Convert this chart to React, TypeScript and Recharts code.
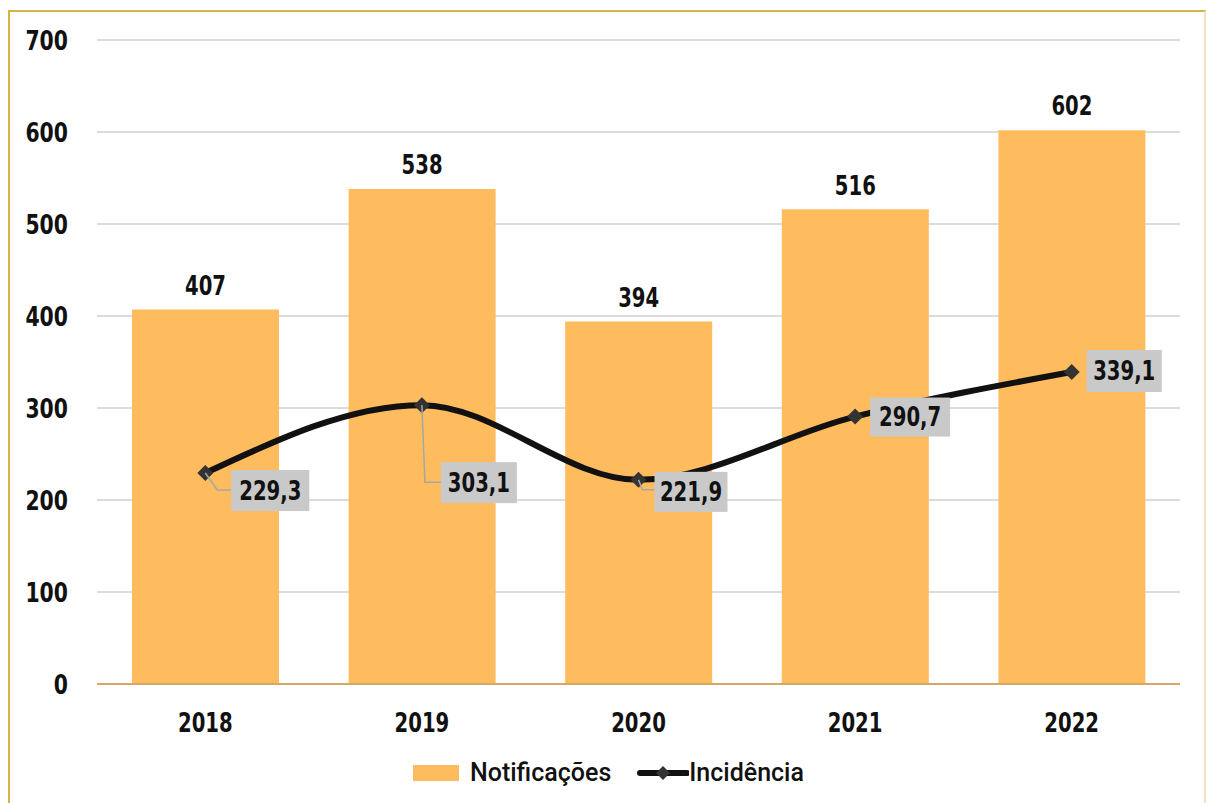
import React from 'react';
import {
  ComposedChart,
  Bar,
  Line,
  XAxis,
  YAxis,
  CartesianGrid,
  LabelList,
} from 'recharts';

const years = ['2018', '2019', '2020', '2021', '2022'];
const notificacoes = [407, 538, 394, 516, 602];
const incidencia = [229.3, 303.1, 221.9, 290.7, 339.1];
const yTicks = [0, 100, 200, 300, 400, 500, 600, 700];

const data = years.map((year, i) => ({
  year,
  notificacoes: notificacoes[i],
  incidencia: incidencia[i],
}));

const FONT = "'DejaVu Sans Condensed', sans-serif";
const BAR_COLOR = '#FEBC5F';

// where each incidence label box sits relative to its point
const boxPlacement = [
  { dx: 26, dy: -3, w: 78, h: 41, leader: [[12, 17], [26, 17]] },
  { dx: 19, dy: 57, w: 76, h: 41, leader: [[3, 77], [19, 77]] },
  { dx: 16, dy: -8, w: 73, h: 40, leader: [[4, 10], [16, 10]] },
  { dx: 15, dy: -19, w: 80, h: 39, leader: [] },
  { dx: 15, dy: -22, w: 75, h: 42, leader: [] },
];

const fmt = (v: number) => v.toFixed(1).replace('.', ',');

// narrow bold text, squeezed horizontally to look like a condensed face
const NarrowText = ({ x, y, anchor = 'middle', dy = '0.355em', size = 26, children }: any) => (
  <g transform={`translate(${x},${y})`}>
    <text
      transform="scale(0.84,1)"
      textAnchor={anchor}
      dy={dy}
      fontFamily={FONT}
      fontWeight="bold"
      fontSize={size}
      fill="#111"
    >
      {children}
    </text>
  </g>
);

const XTick = (props: any) => (
  <NarrowText x={props.x} y={props.y} dy="0.71em">
    {props.payload.value}
  </NarrowText>
);

const YTick = (props: any) => (
  <NarrowText x={props.x} y={props.y} anchor="end" size={27}>
    {props.payload.value}
  </NarrowText>
);

const BarValue = (props: any) => {
  const { x, y, width, value } = props;
  return (
    <NarrowText x={x + width / 2} y={y - 24}>
      {value}
    </NarrowText>
  );
};

const IncidenceLabel = (props: any) => {
  const { x, y, value, index } = props;
  const p = boxPlacement[index];
  if (!p) return null;
  const pts = [[0, 0], ...p.leader].map(([a, b]) => `${x + a},${y + b}`).join(' ');
  return (
    <g>
      {p.leader.length > 0 && (
        <polyline points={pts} fill="none" stroke="#A6A6A6" strokeWidth={1.5} />
      )}
      <rect x={x + p.dx} y={y + p.dy} width={p.w} height={p.h} fill="#C9C9C9" />
      <NarrowText x={x + p.dx + p.w / 2} y={y + p.dy + p.h / 2}>
        {fmt(value)}
      </NarrowText>
    </g>
  );
};

const Diamond = (props: any) => {
  const { cx, cy } = props;
  if (cx == null || cy == null) return null;
  const r = 8;
  return (
    <polygon
      points={`${cx},${cy - r} ${cx + r},${cy} ${cx},${cy + r} ${cx - r},${cy}`}
      fill="#333"
    />
  );
};

const LegendRow = () => (
  <div
    style={{
      position: 'absolute',
      top: 758,
      left: 413,
      display: 'flex',
      alignItems: 'center',
      fontFamily: 'Roboto, sans-serif',
      fontWeight: 500,
      fontSize: 25,
      color: '#111',
      whiteSpace: 'nowrap',
    }}
  >
    <span style={{ display: 'inline-block', width: 46, height: 16, background: BAR_COLOR, marginRight: 11 }} />
    <span style={{ marginRight: 26 }}>Notificações</span>
    <svg width={52} height={20}>
      <line x1={3} y1={10} x2={50} y2={10} stroke="#111" strokeWidth={6} strokeLinecap="round" />
      <polygon points="26,3 33,10 26,17 19,10" fill="#333" />
    </svg>
    <span>Incidência</span>
  </div>
);

export default function App() {
  return (
    <div
      style={{
        position: 'fixed',
        top: 0,
        left: 0,
        width: 1206,
        height: 803,
        background: '#fff',
        overflow: 'hidden',
      }}
    >
      <div
        style={{
          position: 'absolute',
          left: 8,
          top: 10,
          width: 1194,
          height: 800,
          borderTop: '2px solid #D6B443',
          borderLeft: '2px solid #D6B443',
          borderRight: '2px solid #F2E3BC',
        }}
      />
      <div style={{ position: 'absolute', left: 0, top: 0 }}>
        <ComposedChart
          width={1206}
          height={803}
          data={data}
          margin={{ top: 40, right: 26, bottom: 89, left: 0 }}
        >
          <CartesianGrid vertical={false} stroke="#DCDCDC" strokeWidth={2} />
          <XAxis
            dataKey="year"
            axisLine={{ stroke: '#D9A763', strokeWidth: 2 }}
            tickLine={false}
            tickMargin={24}
            tick={<XTick />}
          />
          <YAxis
            width={97}
            domain={[0, 700]}
            ticks={yTicks}
            axisLine={false}
            tickLine={false}
            tickMargin={23}
            tick={<YTick />}
          />
          <Bar dataKey="notificacoes" fill={BAR_COLOR} barSize={147} isAnimationActive={false}>
            <LabelList dataKey="notificacoes" content={<BarValue />} />
          </Bar>
          <Line
            dataKey="incidencia"
            type="monotone"
            stroke="#111"
            strokeWidth={6}
            dot={<Diamond />}
            activeDot={false}
            isAnimationActive={false}
          >
            <LabelList dataKey="incidencia" content={<IncidenceLabel />} />
          </Line>
        </ComposedChart>
      </div>
      <LegendRow />
    </div>
  );
}
